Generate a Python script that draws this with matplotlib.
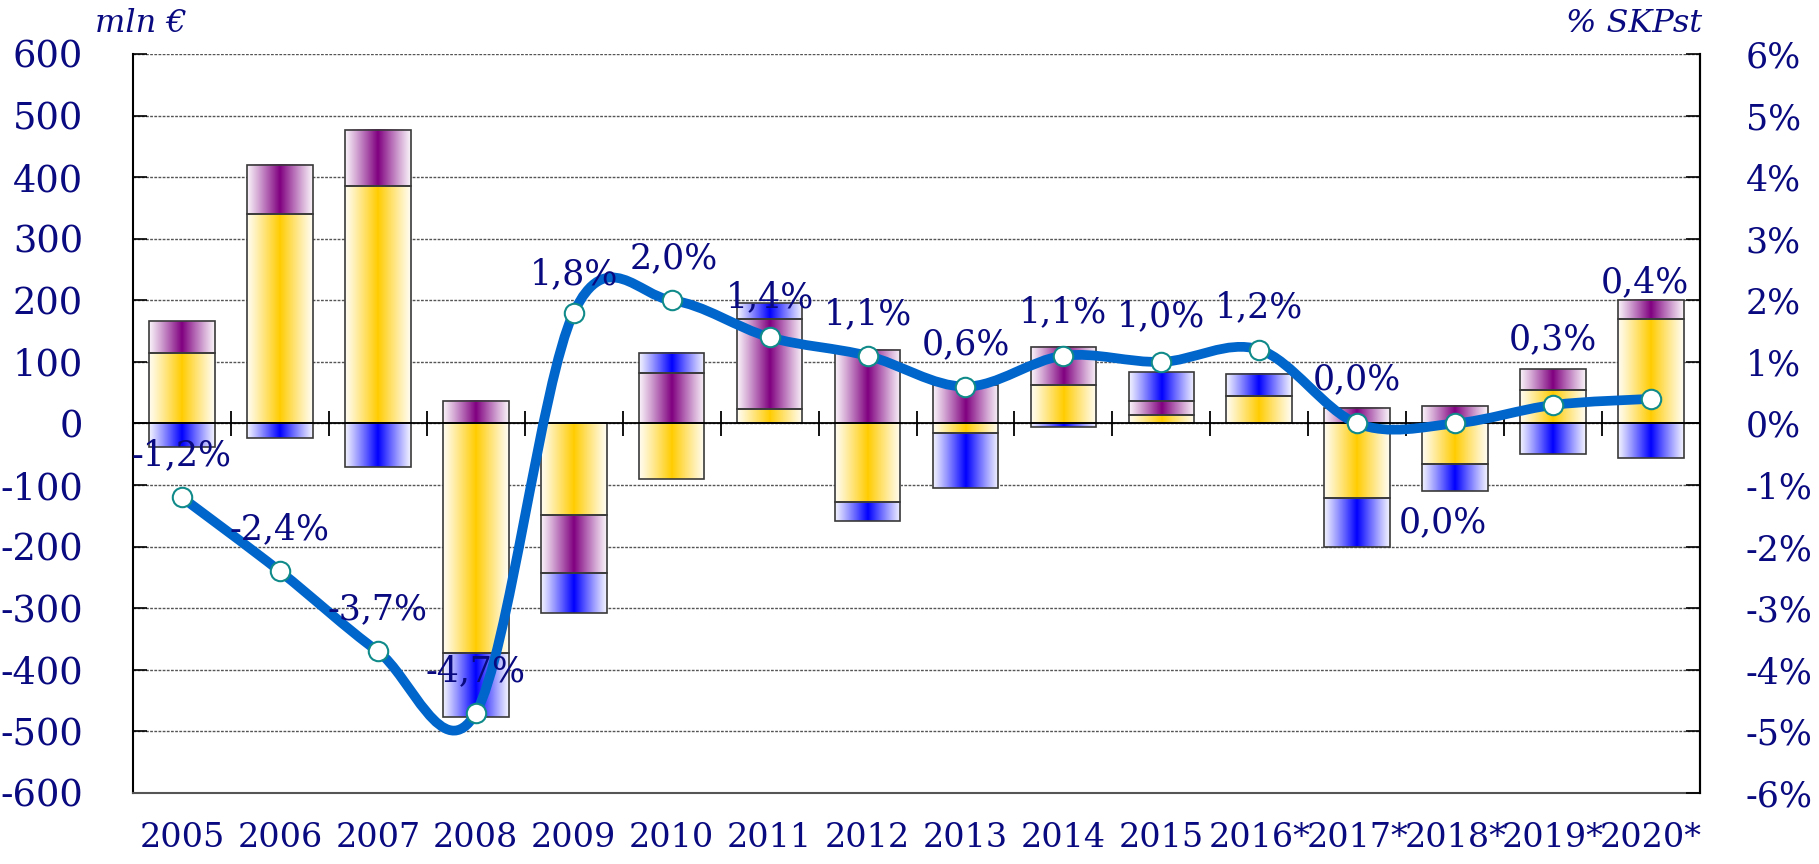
import matplotlib
matplotlib.use("Agg")
import matplotlib.pyplot as plt
import numpy as np
from matplotlib.path import Path
from matplotlib.patches import PathPatch

years = ['2005', '2006', '2007', '2008', '2009', '2010', '2011', '2012',
         '2013', '2014', '2015', '2016*', '2017*', '2018*', '2019*', '2020*']

# mln € - three stacked components (yellow, purple, blue)
yellow_part = [115, 340, 386, -373, -148, -90, 23, -128, -16, 62, 13, 44, -121, -65, 55, 169]
purple_part = [51, 80, 91, 36, -94, 82, 147, 119, 62, 63, 24, 0, 25, 29, 33, 31]
blue_part = [-38, -24, -71, -104, -66, 33, 25, -30, -88, -5, 46, 36, -79, -44, -50, -56]

# % SKPst
pct = [-1.2, -2.4, -3.7, -4.7, 1.8, 2.0, 1.4, 1.1, 0.6, 1.1, 1.0, 1.2, 0.0, 0.0, 0.3, 0.4]

# label offsets (pixels) for the % labels
lbl_off = [(0, 42), (0, 42), (0, 42), (0, 42), (0, 38), (2, 42), (0, 40), (0, 42),
           (0, 42), (0, 44), (0, 46), (0, 42), (0, 44), (-12, -99), (0, 66), (-6, 117)]

navy = '#0a0a80'
serif = ['DejaVu Serif']

fig = plt.figure(figsize=(18.19, 8.64), dpi=100)
ax = fig.add_axes([0.0731, 0.0822, 0.8615, 0.8553])
ax2 = ax.twinx()

x = np.arange(len(years))
w = 0.67


def gradient(color):
    # white edges, full colour in the middle
    u = np.linspace(-1, 1, 200)
    f = 0.05 + 0.95 * np.clip(1 - np.abs(u), 0, 1) ** 1.1
    c = np.array(matplotlib.colors.to_rgb(color))
    img = (1 - f[:, None]) * np.ones(3) + f[:, None] * c
    return img[None, :, :]


pos_b = np.zeros(len(years))
neg_b = np.zeros(len(years))
for vals, col in [(yellow_part, '#ffcc00'), (purple_part, '#800080'), (blue_part, '#0000ff')]:
    vals = np.array(vals, dtype=float)
    bottom = np.where(vals >= 0, pos_b, neg_b)
    g = gradient(col)
    for xi, b, v in zip(x, bottom, vals):
        if v == 0:
            continue
        lo, hi = min(b, b + v), max(b, b + v)
        ax.imshow(g, extent=(xi - w / 2, xi + w / 2, lo, hi), aspect='auto',
                  interpolation='bilinear', zorder=2)
    ax.bar(x, vals, bottom=bottom, width=w, facecolor='none',
           edgecolor='#3a3a3a', linewidth=1.2, zorder=3)
    pos_b = pos_b + np.where(vals >= 0, vals, 0)
    neg_b = neg_b + np.where(vals < 0, vals, 0)

ax.set_xlim(-0.5, len(years) - 0.5)
ax.set_ylim(-600, 600)
ax.set_yticks(range(-600, 601, 100))
ax.set_yticklabels([str(v) for v in range(-600, 601, 100)],
                   fontsize=26.5, color=navy, family=serif)
ax.yaxis.grid(True, color='#555555', linestyle=(0, (2, 1)), linewidth=1)
ax.set_axisbelow(True)
ax.tick_params(axis='y', direction='in', length=10, width=1.2, pad=36, left=True)

ax.set_xticks(x)
ax.set_xticklabels(years, fontsize=24, color=navy, family=serif)
ax.tick_params(axis='x', length=0, pad=21)

# zero line with category separators
ax.axhline(0, color='black', linewidth=1.3, zorder=4)
ax.vlines(np.arange(0.5, len(years) - 1, 1), -20, 20, color='black', linewidth=1.3, zorder=4)

for s in ['left', 'right']:
    ax.spines[s].set_color('black')
    ax.spines[s].set_linewidth(1.5)
ax.spines['top'].set_visible(False)
ax.spines['bottom'].set_color('#555555')
ax.spines['bottom'].set_linewidth(1.5)

# smooth line (Catmull-Rom style bezier through the points)
pts = np.column_stack([x, pct]).astype(float)
ext = np.vstack([pts[0], pts, pts[-1]])
verts = [tuple(pts[0])]
codes = [Path.MOVETO]
for i in range(len(pts) - 1):
    p0, p1, p2, p3 = ext[i], ext[i + 1], ext[i + 2], ext[i + 3]
    c1 = p1 + (p2 - p0) / 6
    c2 = p2 - (p3 - p1) / 6
    verts += [tuple(c1), tuple(c2), tuple(p2)]
    codes += [Path.CURVE4] * 3
ax2.add_patch(PathPatch(Path(verts, codes), fill=False, edgecolor='#0066cc',
                        linewidth=7, capstyle='round', joinstyle='round', zorder=5))
ax2.plot(x, pct, linestyle='none', marker='o', markersize=14,
         markerfacecolor='white', markeredgecolor='#118a8a', markeredgewidth=1.5, zorder=6)

for xi, v, (dx, dy) in zip(x, pct, lbl_off):
    ax2.annotate(f"{v:.1f}%".replace('.', ','), (xi, v), xytext=(dx, dy),
                 textcoords='offset pixels', ha='center', va='center',
                 fontsize=25, color=navy, family=serif, zorder=7)

ax2.set_ylim(-6, 6)
ax2.set_yticks(range(-6, 7))
ax2.set_yticklabels([f"{v}%" for v in range(-6, 7)], fontsize=25, color=navy, family=serif)
ax2.tick_params(axis='y', direction='in', length=10, width=1.2, pad=33)
for s in ['top', 'bottom', 'left']:
    ax2.spines[s].set_visible(False)
ax2.spines['right'].set_linewidth(1.5)

fig.text(95 / 1819, 1 - 24 / 864, 'mln €', fontsize=23, style='italic', color=navy,
         family=serif, ha='left', va='center')
fig.text(1702 / 1819, 1 - 24 / 864, '% SKPst', fontsize=23, style='italic', color=navy,
         family=serif, ha='right', va='center')

fig.savefig('out.png', dpi=100)
